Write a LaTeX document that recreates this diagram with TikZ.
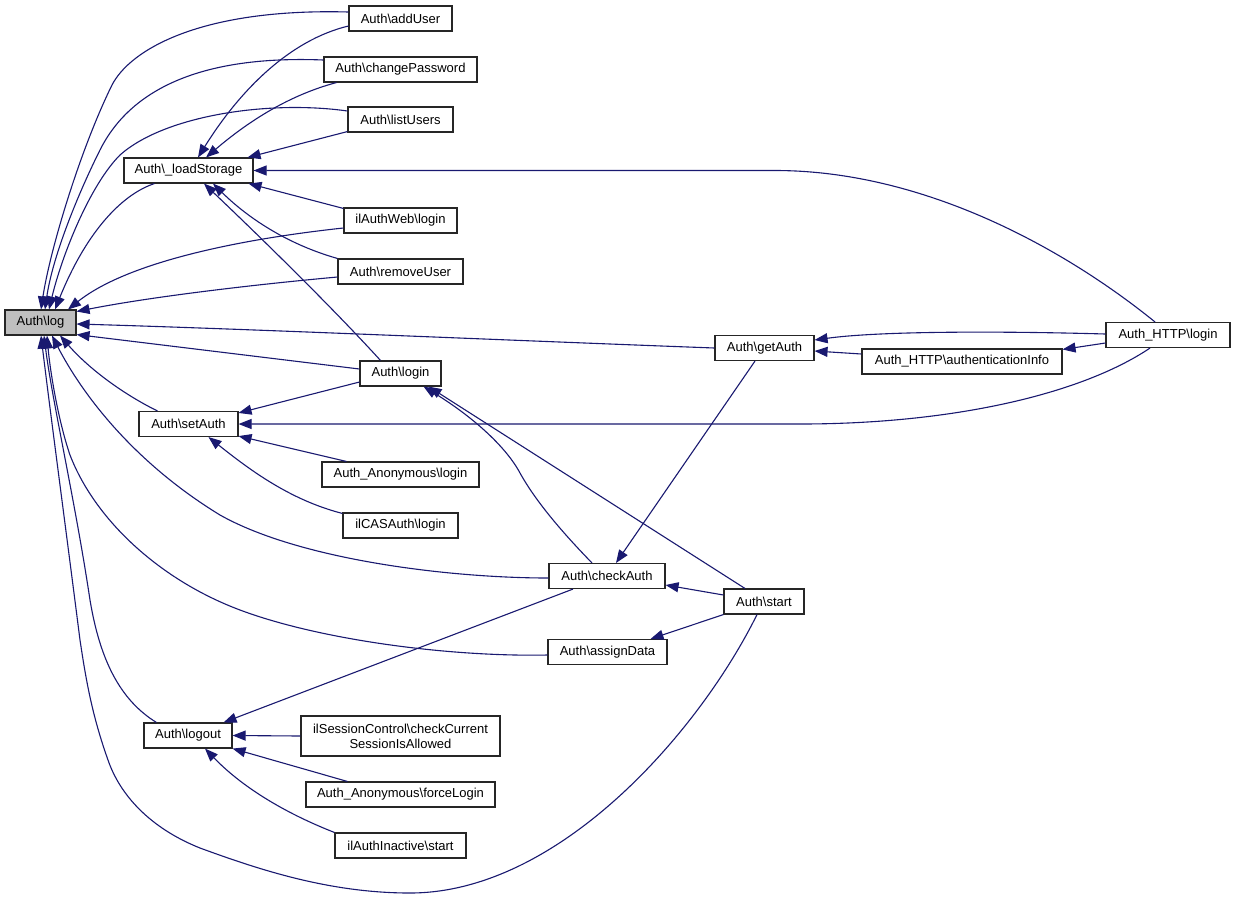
\documentclass[tikz,border=0pt]{standalone}
\usepackage{fontspec}
\setmainfont{Liberation Sans}
\usetikzlibrary{arrows.meta,calc}
\definecolor{edgec}{HTML}{191970}
\definecolor{logfill}{HTML}{BFBFBF}
\begin{document}
\begin{tikzpicture}[x=1pt,y=-1pt,
 box/.style={draw=black!85, line width=1.1pt, fill=white, inner sep=0pt, minimum height=25pt, font=\fontsize{13}{15}\selectfont, text=black, align=center},
 edge/.style={draw=edgec, line width=1.1pt, -{Triangle[length=13pt,width=10pt,fill=edgec]}},
]
\useasboundingbox (0,0) rectangle (1236,898);
\fill[white] (0,0) rectangle (1236,898);
% nodes
\node[box, fill=logfill, minimum width=71pt] (log) at (40.5,322.5) {Auth\textbackslash log};
\node[box, minimum width=103pt] (addUser) at (400.5,18.5) {Auth\textbackslash addUser};
\node[box, minimum width=153pt] (changePassword) at (400.5,69.5) {Auth\textbackslash changePassword};
\node[box, minimum width=105pt] (listUsers) at (400.5,119.5) {Auth\textbackslash listUsers};
\node[box, minimum width=129pt] (loadStorage) at (188.5,170.5) {Auth\textbackslash \_loadStorage};
\node[box, minimum width=113pt] (ilAuthWeb) at (400.5,220.5) {ilAuthWeb\textbackslash login};
\node[box, minimum width=125pt] (removeUser) at (400.5,271.5) {Auth\textbackslash removeUser};
\node[box, minimum width=81pt] (login) at (400.5,373.5) {Auth\textbackslash login};
\node[box, minimum width=99pt] (setAuth) at (188.5,424) {Auth\textbackslash setAuth};
\node[box, minimum width=157pt] (anonLogin) at (400.5,474.5) {Auth\_Anonymous\textbackslash login};
\node[box, minimum width=115pt] (casLogin) at (400.5,525.5) {ilCASAuth\textbackslash login};
\node[box, minimum width=88pt] (logout) at (188,735.5) {Auth\textbackslash logout};
\node[box, minimum width=199pt, minimum height=40pt] (sessCtl) at (400.5,736) {ilSessionControl\textbackslash checkCurrent\\SessionIsAllowed};
\node[box, minimum width=189pt] (forceLogin) at (400.5,794.5) {Auth\_Anonymous\textbackslash forceLogin};
\node[box, minimum width=131pt] (inactive) at (400.5,845.5) {ilAuthInactive\textbackslash start};
\node[box, minimum width=99pt] (getAuth) at (764.5,348) {Auth\textbackslash getAuth};
\node[box, minimum width=200pt] (authInfo) at (962,361.5) {Auth\_HTTP\textbackslash authenticationInfo};
\node[box, minimum width=124pt] (httpLogin) at (1168,335) {Auth\_HTTP\textbackslash login};
\node[box, minimum width=116pt] (checkAuth) at (607,576) {Auth\textbackslash checkAuth};
\node[box, minimum width=80pt] (start) at (764,601.5) {Auth\textbackslash start};
\node[box, minimum width=119pt] (assignData) at (607.5,652) {Auth\textbackslash assignData};
% edges into log
\draw[edge] ($(addUser.west)+(0,-6.5)$) .. controls (200,8) and (130,50) .. (112,85) .. controls (80,150) and (50,250) .. ($(log.north)+(0.5,0)$);
\draw[edge] ($(changePassword.west)+(0,-9.5)$) .. controls (200,55) and (130,90) .. (100,150) .. controls (75,200) and (52,260) .. ($(log.north)+(4.5,0)$);
\draw[edge] ($(listUsers.west)+(0,-8.5)$) .. controls (270,100) and (165,115) .. (120,155) .. controls (90,185) and (62,255) .. ($(log.north)+(8.5,0)$);
\draw[edge] ($(loadStorage.south west)+(31,0)$) .. controls (120,195) and (85,235) .. ($(log.north)+(14.5,0)$);
\draw[edge] ($(ilAuthWeb.west)+(0,7.5)$) .. controls (250,238) and (130,260) .. ($(log.north)+(27.5,0)$);
\draw[edge] ($(removeUser.west)+(0,5.5)$) .. controls (250,285) and (150,297) .. ($(log.east)+(0,-11)$);
\draw[edge] (getAuth.west) .. controls (500,340) and (250,329) .. ($(log.east)+(0,1.5)$);
\draw[edge] ($(login.west)+(0,-4.5)$) -- ($(log.south east)+(0,-1)$);
\draw[edge] ($(setAuth.north west)+(19,0)$) .. controls (125,395) and (90,370) .. ($(log.south)+(19.5,0)$);
\draw[edge] ($(checkAuth.west)+(0,2)$) .. controls (450,578) and (300,560) .. (220,515) .. controls (130,460) and (80,390) .. ($(log.south)+(11.5,0)$);
\draw[edge] ($(assignData.west)+(0,3)$) .. controls (450,657) and (320,640) .. (240,610) .. controls (160,580) and (95,520) .. (70,455) .. controls (58,420) and (50,370) .. ($(log.south)+(6.5,0)$);
\draw[edge] ($(logout.north west)+(13,0)$) .. controls (120,700) and (100,660) .. (90,600) .. controls (75,500) and (52,400) .. ($(log.south)+(3.5,0)$);
\draw[edge] ($(start.south)+(-7,0)$) .. controls (700,730) and (560,893) .. (410,893) .. controls (330,893) and (260,870) .. (200,848) .. controls (150,828) and (120,795) .. (108,760) .. controls (92,715) and (86,680) .. (80,640) .. controls (66,530) and (50,410) .. ($(log.south)+(0.5,0)$);
% edges into loadStorage
\draw[edge] ($(addUser.west)+(0,7.5)$) .. controls (290,40) and (240,90) .. ($(loadStorage.north)+(9.5,0)$);
\draw[edge] ($(changePassword.south west)+(13,0)$) .. controls (290,95) and (250,120) .. ($(loadStorage.north)+(17.5,0)$);
\draw[edge] ($(listUsers.south west)+(0,-1)$) -- ($(loadStorage.north east)+(-6,0)$);
\draw[edge] ($(httpLogin.north)+(-13,0)$) .. controls (1060,245) and (920,170.5) .. (775,170.5) -- (loadStorage.east);
\draw[edge] ($(ilAuthWeb.north west)+(0,1)$) -- ($(loadStorage.south east)+(-5,0)$);
\draw[edge] (removeUser.north west) .. controls (290,245) and (250,220) .. ($(loadStorage.south)+(24.5,0)$);
\draw[edge] ($(login.north)+(-20,0)$) .. controls (330,305) and (255,232) .. ($(loadStorage.south)+(15.5,0)$);
% edges into setAuth
\draw[edge] ($(login.west)+(0,8.5)$) -- ($(setAuth.north east)+(0,2)$);
\draw[edge] ($(httpLogin.south)+(-18,0)$) .. controls (1080,395) and (950,424) .. (800,424) -- (setAuth.east);
\draw[edge] ($(anonLogin.north west)+(25,0)$) -- ($(setAuth.south east)+(0,-1)$);
\draw[edge] ($(casLogin.north west)+(0,1)$) .. controls (290,500) and (250,470) .. ($(setAuth.south)+(20,0)$);
% edges into login
\draw[edge] ($(checkAuth.north)+(-15,0)$) .. controls (560,530) and (535,500) .. (520,473) .. controls (505,445) and (470,415) .. ($(login.south east)+(-18,0)$);
\draw[edge] ($(start.north)+(-19,0)$) -- ($(login.south east)+(-13,0)$);
% edges into getAuth / authInfo
\draw[edge] ($(httpLogin.west)+(0,-1)$) .. controls (1000,331) and (880,331) .. ($(getAuth.east)+(0,-8)$);
\draw[edge] ($(authInfo.west)+(0,-7.5)$) -- ($(getAuth.east)+(0,3)$);
\draw[edge] ($(httpLogin.west)+(0,8)$) -- ($(authInfo.north east)+(0,1)$);
% edges into checkAuth / assignData
\draw[edge] ($(getAuth.south)+(-9.5,0)$) -- ($(checkAuth.north)+(9,0)$);
\draw[edge] ($(start.west)+(0,-6.5)$) -- ($(checkAuth.east)+(0,9)$);
\draw[edge] (start.south west) -- ($(assignData.north)+(43,0)$);
% edges into logout
\draw[edge] ($(checkAuth.south)+(-34,0)$) -- ($(logout.north east)+(-9,0)$);
\draw[edge] (sessCtl.west) -- (logout.east);
\draw[edge] ($(forceLogin.north west)+(42,0)$) -- (logout.south east);
\draw[edge] (inactive.north west) .. controls (290,815) and (245,790) .. ($(logout.south)+(17,0)$);
\end{tikzpicture}
\end{document}
